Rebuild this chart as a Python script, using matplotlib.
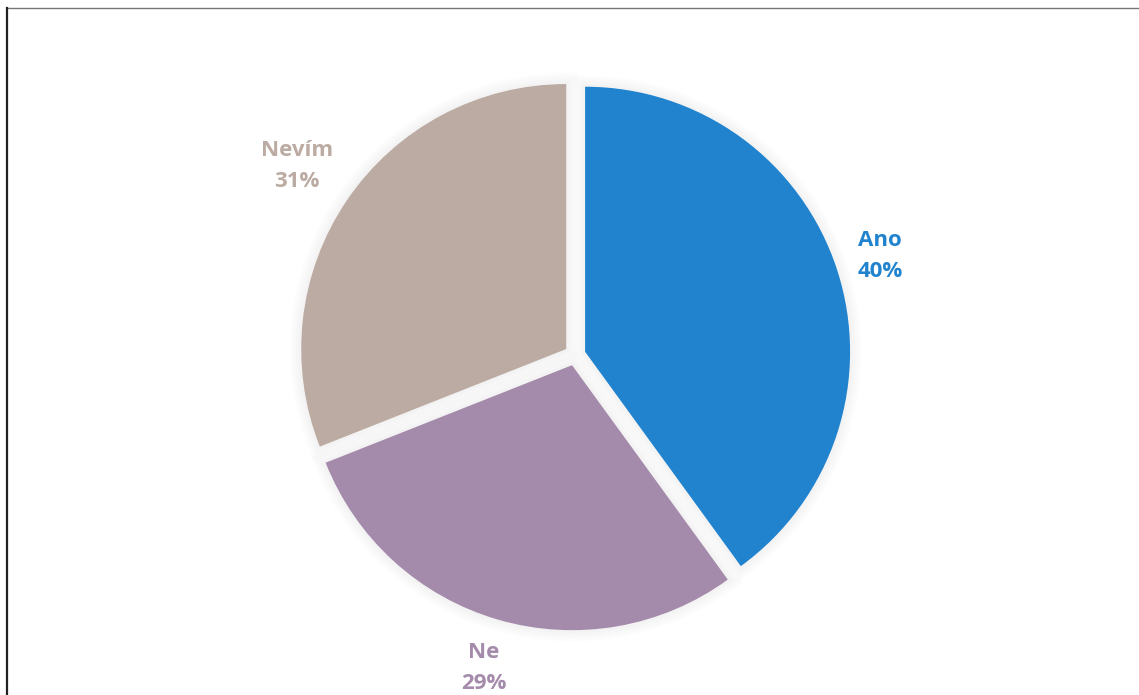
import matplotlib
matplotlib.use("Agg")
import matplotlib.pyplot as plt
import matplotlib.patheffects as pe
from matplotlib.lines import Line2D
import numpy as np

categories = ["Ano", "Ne", "Nevím"]
shares = [40, 29, 31]
colors = ["#2183CE", "#A58BAB", "#BCABA2"]

W, H, DPI = 1139, 695, 100
fig = plt.figure(figsize=(W / DPI, H / DPI), dpi=DPI)
fig.patch.set_facecolor("white")

ax = fig.add_axes([0, 0, 1, 1])

explode = [0.04] * len(shares)
pie_kw = dict(startangle=90, counterclock=False, explode=explode, radius=1.0)

# soft halo under the slices
shadow = [pe.Stroke(linewidth=lw, foreground="black", alpha=0.012) for lw in (16, 12, 8, 4)]
ax.pie(shares, colors=["white"] * 3,
       wedgeprops=dict(linewidth=0, path_effects=shadow), **pie_kw)

wedges, texts = ax.pie(shares, colors=colors,
                       labels=[f"{c}\n{v}%" for c, v in zip(categories, shares)],
                       labeldistance=1.2, wedgeprops=dict(linewidth=0), **pie_kw)

# view scaled so the pie radius is 1 data unit = 265 px
R_PX = 265.0
CX, CY = 575.0, 355.0
ax.set_xlim(-CX / R_PX, (W - CX) / R_PX)
ax.set_ylim((CY - H) / R_PX, CY / R_PX)
ax.set_aspect("equal")
ax.axis("off")

label_dist = {"Ano": 1.17, "Ne": 1.19, "Nevím": 1.23}
for w, t, c, col in zip(wedges, texts, categories, colors):
    theta = np.deg2rad((w.theta1 + w.theta2) / 2)
    x0, y0 = w.center
    d = label_dist[c]
    t.set_position((x0 + d * np.cos(theta), y0 + d * np.sin(theta)))
    t.set_ha("center")
    t.set_va("center")
    t.set_color(col)
    t.set_fontsize(16)
    t.set_fontweight("bold")
    t.set_fontfamily("Open Sans")
    t.set_linespacing(1.6)

# chart frame: top and left edges
fig.add_artist(Line2D([6.5 / W, 1], [1 - 8 / H, 1 - 8 / H], transform=fig.transFigure,
                      color="#767676", linewidth=1.0))
fig.add_artist(Line2D([6.5 / W, 6.5 / W], [0, 1 - 8 / H], transform=fig.transFigure,
                      color="#222222", linewidth=1.6))

fig.savefig("out.png", dpi=DPI, facecolor="white")
